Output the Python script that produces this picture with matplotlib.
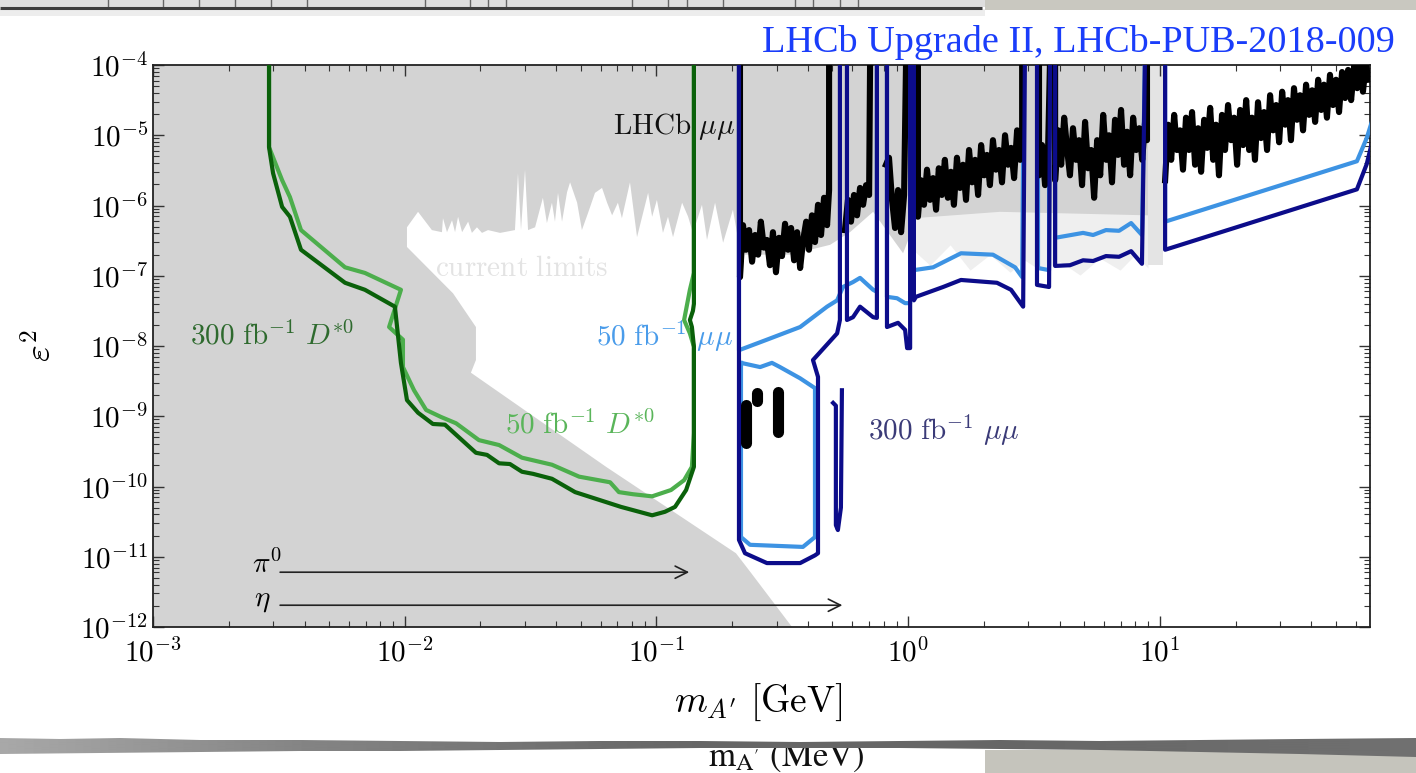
import numpy as np
import matplotlib.pyplot as plt
from matplotlib.patches import Rectangle, Polygon
from matplotlib.ticker import FuncFormatter, LogLocator, NullFormatter

# all curves are stored as log10(m / GeV) and log10(eps^2)

# excluded region ("current limits"): outline pieces
gray_low_lm = [-3.0, -3.0, -0.44, -0.624, -0.684, -1.200, -1.737, -1.717, -1.717, -1.808, -1.991, -1.991]
gray_low_le = [-3.9, -12.1, -12.1, -11.23, -10.95, -9.72, -8.38, -8.20, -7.73, -7.25, -6.59, -6.31]
limit_edge_lm = [-1.947, -1.892, -1.852, -1.848, -1.832, -1.812, -1.800, -1.788, -1.772, -1.748,
                 -1.733, -1.713, -1.693, -1.669, -1.621, -1.562, -1.550, -1.538, -1.522, -1.510,
                 -1.482, -1.451, -1.435, -1.415, -1.403, -1.391, -1.375, -1.355, -1.343, -1.315,
                 -1.296, -1.272, -1.244, -1.216, -1.196, -1.176, -1.153, -1.137, -1.105, -1.077,
                 -1.033, -1.017, -0.998, -0.974, -0.954, -0.934, -0.898, -0.874, -0.855, -0.819,
                 -0.799, -0.767, -0.735, -0.696, -0.680]
limit_edge_le = [-6.09, -6.35, -6.38, -6.18, -6.38, -6.21, -6.38, -6.16, -6.38, -6.23,
                 -6.39, -6.31, -6.39, -6.35, -6.39, -6.35, -5.54, -6.35, -5.49, -6.35,
                 -6.31, -5.89, -6.25, -5.96, -6.23, -5.82, -6.23, -5.81, -5.67, -5.96,
                 -6.35, -6.11, -5.82, -5.75, -5.96, -6.14, -5.96, -6.18, -5.67, -6.45,
                 -5.82, -6.16, -5.92, -6.39, -6.16, -6.45, -5.96, -6.16, -6.39, -5.99,
                 -6.49, -5.96, -6.53, -6.06, -6.39]
gray_high_lm = [-0.648, -0.469, -0.310, -0.231, -0.139, -0.020, 0.008, 0.027, 0.365, 0.953, 0.953]
gray_high_le = [-6.70, -6.70, -6.56, -6.38, -6.09, -6.68, -6.42, -6.18, -6.09, -6.14, -3.9]

# faint streaks below the excluded region
fuzz_lm = [0.019, 0.087, 0.167, 0.246, 0.325, 0.405, 0.464, 0.524, 0.604, 0.683, 0.762, 0.842, 0.902, 0.953]
fuzz_le = [-6.63, -6.85, -6.56, -6.92, -6.70, -6.95, -6.78, -6.92, -6.80, -6.99, -6.75, -6.92, -6.70, -6.89]
fuzz_top = -6.0
ups_lm = [0.953, 1.013]
ups_low = -6.85

# D*0 -> D0 A' projections
dstar300_lm = [-2.539, -2.539, -2.523, -2.487, -2.456, -2.412, -2.237, -2.158, -2.039, -2.015, -1.991,
               -1.947, -1.888, -1.840, -1.717, -1.673, -1.625, -1.582, -1.534, -1.490, -1.415, -1.323,
               -1.141, -1.017, -0.966, -0.926, -0.882, -0.851, -0.851, -0.859, -0.867, -0.855, -0.851, -0.851]
dstar300_le = [-3.9, -5.17, -5.54, -6.02, -6.16, -6.63, -7.10, -7.20, -7.44, -8.24, -8.77,
               -8.95, -9.11, -9.12, -9.52, -9.55, -9.67, -9.68, -9.79, -9.82, -9.89, -10.08,
               -10.29, -10.41, -10.36, -10.29, -10.05, -9.72, -8.01, -7.73, -7.63, -7.50, -7.40, -3.9]
dstar50_lm = [-2.539, -2.539, -2.487, -2.456, -2.412, -2.237, -2.158, -2.015, -2.062, -2.007, -2.007,
              -1.963, -1.915, -1.856, -1.796, -1.705, -1.625, -1.534, -1.415, -1.307, -1.184, -1.149,
              -1.093, -1.017, -0.942, -0.890, -0.859, -0.851, -0.851, -0.867, -0.890, -0.867, -0.851, -0.851]
dstar50_le = [-3.9, -5.17, -5.64, -5.88, -6.35, -6.88, -6.96, -7.20, -7.73, -7.91, -8.30,
              -8.63, -8.91, -9.01, -9.10, -9.34, -9.41, -9.59, -9.69, -9.86, -9.94, -10.08,
              -10.11, -10.14, -10.05, -9.91, -9.72, -9.24, -8.01, -7.82, -7.63, -7.20, -6.96, -3.9]

# LHCb prompt mu mu limit (Run 2)
blk1_lm = [-0.668, -0.668, -0.656, -0.644, -0.632, -0.620, -0.608, -0.596, -0.585, -0.573, -0.561,
           -0.549, -0.537, -0.525, -0.513, -0.501, -0.489, -0.477, -0.465, -0.453, -0.441, -0.429,
           -0.417, -0.405, -0.394, -0.382, -0.370, -0.358, -0.346, -0.334, -0.322, -0.314, -0.314]
blk1_le = [-3.9, -7.02, -6.28, -6.63, -6.35, -6.80, -6.42, -6.70, -6.23, -6.60, -6.49,
           -6.85, -6.38, -6.95, -6.46, -6.72, -6.26, -6.63, -6.32, -6.78, -6.38, -6.89,
           -6.49, -6.23, -6.63, -6.14, -6.52, -5.99, -6.42, -5.89, -6.28, -5.78, -3.9]
blk2_lm = [-0.251, -0.239, -0.227, -0.215, -0.203, -0.191, -0.179, -0.167, -0.155, -0.151]
blk2_le = [-6.35, -5.92, -6.23, -5.85, -6.14, -5.75, -5.99, -5.71, -5.85, -3.9]
blk3_lm = [-0.088, -0.076, -0.064, -0.052, -0.040, -0.028, -0.016, -0.008]
blk3_le = [-5.42, -5.32, -5.92, -6.32, -5.78, -6.38, -5.85, -3.9]
blk4_lm = [0.039, 0.039, 0.051, 0.063, 0.075, 0.087, 0.099, 0.111, 0.122, 0.134, 0.146, 0.158, 0.170,
           0.182, 0.194, 0.206, 0.218, 0.230, 0.242, 0.254, 0.266, 0.278, 0.290, 0.302, 0.313, 0.325,
           0.337, 0.349, 0.361, 0.373, 0.385, 0.397, 0.409, 0.421, 0.433, 0.445, 0.453, 0.453]
blk4_le = [-3.9, -6.16, -5.64, -5.99, -5.49, -5.92, -5.61, -6.06, -5.47, -5.85, -5.35, -5.89, -5.52,
           -5.99, -5.32, -5.75, -5.42, -5.92, -5.21, -5.67, -5.35, -5.85, -5.14, -5.57, -5.28, -5.71,
           -5.07, -5.49, -5.21, -5.67, -5.00, -5.42, -5.18, -5.61, -4.93, -5.35, -5.07, -3.9]
blk5a_lm = [0.520, 0.520, 0.532, 0.544, 0.556, 0.564]
blk5a_le = [-3.9, -5.57, -5.14, -5.71, -5.21, -3.9]
blk5b_lm = [0.584, 0.584, 0.596, 0.608, 0.620, 0.632, 0.643, 0.655, 0.667, 0.679, 0.691, 0.703,
            0.715, 0.727, 0.739, 0.751, 0.763, 0.775, 0.787, 0.798, 0.810, 0.822, 0.834, 0.846,
            0.858, 0.870, 0.882, 0.894, 0.906, 0.918, 0.930, 0.942, 0.949, 0.949]
blk5b_le = [-3.9, -5.64, -4.93, -5.42, -4.75, -5.21, -5.57, -4.90, -5.35, -5.07, -5.71, -4.81,
            -5.47, -5.21, -5.89, -5.07, -5.57, -4.71, -5.35, -5.00, -5.67, -4.78, -5.28, -4.64,
            -5.42, -4.95, -5.57, -4.75, -5.21, -4.90, -5.35, -4.78, -5.07, -3.9]
blk6_lm = [1.021, 1.033, 1.045, 1.057, 1.068, 1.080, 1.092, 1.104, 1.116, 1.128,
           1.140, 1.152, 1.164, 1.176, 1.188, 1.200, 1.212, 1.223, 1.235, 1.247,
           1.259, 1.271, 1.283, 1.295, 1.307, 1.319, 1.331, 1.343, 1.355, 1.366,
           1.378, 1.390, 1.402, 1.414, 1.426, 1.438, 1.450, 1.462, 1.474, 1.486,
           1.498, 1.509, 1.521, 1.533, 1.545, 1.557, 1.569, 1.581, 1.593, 1.605,
           1.617, 1.629, 1.641, 1.652, 1.664, 1.676, 1.688, 1.700, 1.712, 1.724,
           1.736, 1.748, 1.760, 1.772, 1.784, 1.795, 1.807, 1.819, 1.827]
blk6_le = [-5.64, -4.85, -5.35, -4.71, -5.21, -4.93, -5.49, -4.75, -5.21, -4.67,
           -5.42, -4.90, -5.52, -4.78, -5.18, -4.61, -5.35, -4.85, -5.57, -4.71,
           -5.21, -4.57, -5.07, -4.75, -5.42, -4.64, -5.14, -4.50, -5.21, -4.75,
           -5.35, -4.53, -5.04, -4.67, -5.21, -4.43, -4.93, -4.57, -5.10, -4.38,
           -4.85, -4.50, -5.07, -4.33, -4.78, -4.43, -4.93, -4.28, -4.71, -4.36,
           -4.81, -4.21, -4.64, -4.28, -4.75, -4.14, -4.57, -4.21, -4.67, -4.10,
           -4.47, -4.07, -4.50, -4.01, -4.33, -3.99, -4.38, -3.96, -4.21]
blob_lm = [-0.644, -0.600, -0.516]
blob_top = [-8.84, -8.67, -8.65]
blob_bot = [-9.38, -8.78, -9.22]

# Upgrade projections, 50 fb^-1 mu mu
mu50_segments = [
    ([-0.672, -0.672, -0.561, -0.429, -0.322, -0.282, -0.259, -0.219, -0.191, -0.139, -0.124, -0.124],
     [-3.9, -8.06, -7.91, -7.73, -7.44, -7.35, -7.16, -7.09, -7.03, -7.20, -7.23, -3.9]),
    ([-0.084, -0.084, -0.044, -0.012, 0.008, 0.008],
     [-3.9, -7.30, -7.32, -7.39, -7.39, -3.9]),
    ([0.023, 0.023, 0.099, 0.210, 0.337, 0.425, 0.453, 0.460],
     [-3.9, -6.92, -6.88, -6.68, -6.70, -6.88, -7.02, -3.9]),
    ([0.516, 0.516, 0.560, 0.560],
     [-3.9, -6.89, -6.92, -3.9]),
    ([0.584, 0.584, 0.695, 0.735, 0.786, 0.838, 0.886, 0.929, 0.941],
     [-3.9, -6.46, -6.39, -6.42, -6.35, -6.36, -6.25, -6.42, -3.9]),
    ([1.021, 1.021, 1.783, 1.822, 1.843],
     [-3.9, -6.23, -5.37, -5.04, -4.80]),
    ([-0.664, -0.588, -0.541, -0.509, -0.429, -0.370, -0.370, -0.418, -0.628, -0.664, -0.664],
     [-8.24, -8.30, -8.24, -8.30, -8.46, -8.60, -10.72, -10.86, -10.83, -10.72, -8.24]),
]

# Upgrade projections, 300 fb^-1 mu mu
mu300_segments = [
    ([-0.672, -0.672, -0.648, -0.561, -0.429, -0.370, -0.358, -0.358, -0.378, -0.282, -0.271, -0.271],
     [-3.9, -10.76, -10.95, -11.09, -11.09, -10.98, -10.95, -8.44, -8.20, -7.82, -7.63, -3.9]),
    ([-0.243, -0.243, -0.219, -0.191, -0.139, -0.124, -0.124],
     [-3.9, -7.63, -7.59, -7.44, -7.59, -7.60, -3.9]),
    ([-0.084, -0.084, -0.040, -0.012, -0.004, 0.008, 0.008],
     [-3.9, -7.73, -7.67, -7.77, -8.03, -8.03, -3.9]),
    ([0.023, 0.023, 0.031, 0.139, 0.210, 0.353, 0.409, 0.457, 0.464],
     [-3.9, -7.35, -7.30, -7.16, -7.06, -7.10, -7.20, -7.44, -3.9]),
    ([0.512, 0.512, 0.560, 0.564],
     [-3.9, -7.13, -7.16, -3.9]),
    ([0.584, 0.584, 0.643, 0.695, 0.735, 0.786, 0.838, 0.886, 0.929, 0.941],
     [-3.9, -6.86, -6.85, -6.78, -6.79, -6.72, -6.73, -6.65, -6.83, -3.9]),
    ([1.021, 1.021, 1.783, 1.822, 1.843],
     [-3.9, -6.63, -5.77, -5.41, -5.10]),
    ([-0.298, -0.287, -0.287, -0.279, -0.267, -0.263],
     [-8.81, -8.85, -10.55, -10.62, -10.30, -8.63]),
]

# meson mass reach of the pi0 / eta Dalitz searches
arrow_start = 10 ** -2.495
m_pi0, m_eta = 0.135, 0.548
pi0_level, eta_level = -11.22, -11.69

GRAY = '#d3d3d3'
DGREEN, LGREEN = '#0a610a', '#4cae4c'
LBLUE, NAVY = '#3d93e3', '#0c0c8a'

plt.rcParams['mathtext.fontset'] = 'cm'

W, H = 1416, 773
fig = plt.figure(figsize=(W / 100, H / 100), dpi=100)

# slide backdrop, pixel coordinates with y pointing down
bg = fig.add_axes([0, 0, 1, 1], zorder=0)
bg.axis('off')
bg.add_patch(Rectangle((0, 0), 985, 7, color='#dedede', lw=0))
for tx in [108, 163, 199, 235, 271, 307, 425, 470, 488, 506, 632, 668, 687, 723, 795, 813, 840, 858]:
    bg.plot([tx, tx], [0, 7], color='#666666', lw=1)
bg.plot([0, 982], [8, 8], color='#3c3c3c', lw=2.2, solid_capstyle='butt')
bg.add_patch(Rectangle((0, 9), 985, 7, color='#ededed', lw=0))
bg.add_patch(Rectangle((985, 0), W - 985, 10, color='#c9c8c0', lw=0))
bg.add_patch(Rectangle((985, 750), W - 985, H - 750, color='#c5c4bc', lw=0))
bg.text(786, 766, r'$\mathrm{m}_{\mathrm{A}^{\prime}}\ \mathrm{(MeV)}$', ha='center', va='baseline',
        fontsize=25, color='#111111', math_fontfamily='stix', zorder=1)
bg.add_patch(Rectangle((0, 16), W, 728, color='white', lw=0, zorder=2))
band_x = [0, 60, 120, 200, 300, 400, 500, 600, 700, 800, 900, 1000, 1100, 1200, 1300, 1416,
          1416, 1300, 1200, 1100, 1000, 900, 800, 700, 600, 500, 400, 300, 200, 100, 0]
band_y = [738, 739, 738, 740, 740, 741, 742, 741, 741, 742, 741, 740, 741, 740, 739, 738,
          757, 754, 752, 750, 749, 748, 748, 748, 749, 750, 751, 751, 752, 753, 754]
band = Polygon(np.column_stack([band_x, band_y]), closed=True, facecolor='none', edgecolor='none')
bg.add_patch(band)
shade = np.interp(np.arange(W), [0, 300, 700, 1000, 1416], [0.66, 0.52, 0.40, 0.40, 0.44])
im = bg.imshow(shade[None, :], cmap='gray', vmin=0, vmax=1, extent=(0, W, 760, 735),
               aspect='auto', zorder=3, interpolation='bilinear')
im.set_clip_path(band)
bg.set_xlim(0, W)
bg.set_ylim(H, 0)

fig.text(1395 / W, 1 - 43 / H, 'LHCb Upgrade II, LHCb-PUB-2018-009', ha='right', va='center',
         color='#1a3dfa', fontsize=27.5, family='Liberation Serif')

ax = fig.add_axes([153 / W, 1 - 627 / H, 1217 / W, 562 / H], zorder=1)
ax.set_xscale('log')
ax.set_yscale('log')


def trace(lm, le, **kw):
    return ax.plot(10.0 ** np.asarray(lm), 10.0 ** np.asarray(le), **kw)


# current limits
poly_lm = np.concatenate([gray_low_lm, limit_edge_lm, gray_high_lm])
poly_le = np.concatenate([gray_low_le, limit_edge_le, gray_high_le])
ax.fill_between(10.0 ** np.asarray(fuzz_lm), 10.0 ** np.asarray(fuzz_le), 10.0 ** fuzz_top,
                color='#efefef', lw=0, zorder=0.9)
ax.fill(10.0 ** poly_lm, 10.0 ** poly_le, color=GRAY, lw=0, zorder=1)
ax.fill_between(10.0 ** np.asarray(ups_lm), 10.0 ** ups_low, 10.0 ** -3.9,
                color='#e4e4e4', lw=0, zorder=1)

# projections
trace(dstar50_lm, dstar50_le, color=LGREEN, lw=3, zorder=3)
trace(dstar300_lm, dstar300_le, color=DGREEN, lw=3, zorder=3.1)

blk = dict(color='black', lw=4.4, zorder=4, solid_joinstyle='round')
for lm, le in [(blk1_lm, blk1_le), (blk2_lm, blk2_le), (blk3_lm, blk3_le), (blk4_lm, blk4_le),
               (blk5a_lm, blk5a_le), (blk5b_lm, blk5b_le), (blk6_lm, blk6_le)]:
    trace(lm, le, **blk)
for x, lo, hi in zip(blob_lm, blob_bot, blob_top):
    trace([x, x], [lo, hi], color='black', lw=8, solid_capstyle='round', zorder=4)

for lm, le in mu50_segments:
    trace(lm, le, color=LBLUE, lw=3, zorder=3.5)
for lm, le in mu300_segments:
    trace(lm, le, color=NAVY, lw=3, zorder=5)

# meson reach arrows
arrow = dict(arrowstyle='->', color='#222222', lw=1.2, mutation_scale=22, shrinkA=0, shrinkB=0)
ax.annotate('', xy=(m_pi0, 10 ** pi0_level), xytext=(arrow_start, 10 ** pi0_level), arrowprops=arrow, zorder=6)
ax.annotate('', xy=(m_eta, 10 ** eta_level), xytext=(arrow_start, 10 ** eta_level), arrowprops=arrow, zorder=6)
ax.text(10 ** -2.487, 10 ** -11.23, r'$\pi^0$', fontsize=21, ha='right', va='baseline', zorder=6)
ax.text(10 ** -2.535, 10 ** -11.70, r'$\eta$', fontsize=21, ha='right', va='baseline', zorder=6)

# curve labels
lab = dict(fontsize=21, va='center', zorder=2)
ax.text(10 ** -0.688, 10 ** -4.88, r'$\mathrm{LHCb}\ \mu\mu$', ha='right', color='#111111', **lab)
ax.text(10 ** -1.880, 10 ** -6.89, r'$\mathrm{current\ limits}$', ha='left', color='#e3e3e3', **lab)
ax.text(10 ** -2.853, 10 ** -7.86, r'$300\ \mathrm{fb}^{-1}\ D^{*0}$', ha='left', color='#2e6a2e', **lab)
ax.text(10 ** -1.601, 10 ** -9.12, r'$50\ \mathrm{fb}^{-1}\ D^{*0}$', ha='left', color='#5ab55a', **lab)
ax.text(10 ** -0.696, 10 ** -7.86, r'$50\ \mathrm{fb}^{-1}\ \mu\mu$', ha='right', color='#4a9cea', **lab)
ax.text(10 ** -0.159, 10 ** -9.20, r'$300\ \mathrm{fb}^{-1}\ \mu\mu$', ha='left', color='#3b3b78', **lab)

ax.set_xlim(1e-3, 10 ** 1.835)
ax.set_ylim(1e-12, 1e-4)

fmt = FuncFormatter(lambda v, pos: r'$10^{%d}$' % round(np.log10(v)))
for axis in (ax.xaxis, ax.yaxis):
    axis.set_major_locator(LogLocator(base=10, numticks=20))
    axis.set_minor_locator(LogLocator(base=10, subs=np.arange(2, 10), numticks=20))
    axis.set_major_formatter(fmt)
    axis.set_minor_formatter(NullFormatter())
ax.tick_params(which='both', direction='in', top=True, right=True, color='#333333')
ax.tick_params(which='major', length=8, width=1, labelsize=21)
ax.tick_params(axis='x', which='major', pad=8)
ax.tick_params(which='minor', length=4, width=0.8)
for sp in ax.spines.values():
    sp.set_color('#222222')
    sp.set_linewidth(1.3)

ax.set_xlabel(r'$m_{A^\prime}\ [\mathrm{GeV}]$', fontsize=27, va='center')
ax.xaxis.set_label_coords(0.497, -0.135)
ax.set_ylabel(r'$\varepsilon^2$', fontsize=26, va='center')
ax.yaxis.set_label_coords(-0.092, 0.5)

fig.savefig('out.png', dpi=100)
